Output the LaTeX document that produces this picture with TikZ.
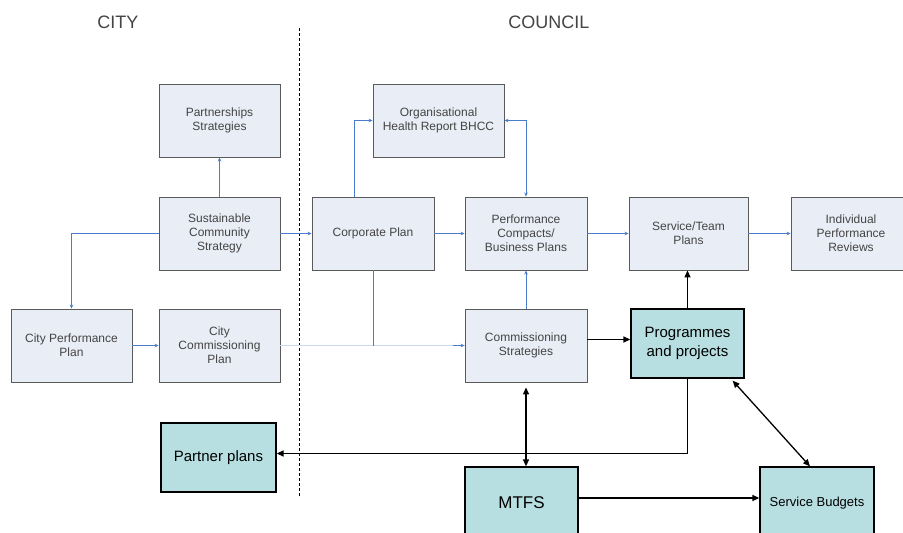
\documentclass[tikz,border=0pt]{standalone}
\usepackage{fontspec}
\setmainfont{Liberation Sans}
\usetikzlibrary{arrows.meta}
\definecolor{lfill}{HTML}{E9EDF6}
\definecolor{lborder}{HTML}{5A5A5A}
\definecolor{tfill}{HTML}{B7DFE1}
\definecolor{bline}{HTML}{4A7CCB}
\definecolor{fline}{HTML}{C9D9F1}
\definecolor{ltext}{HTML}{444444}
\tikzset{
  lbox/.style={rectangle, draw=lborder, line width=0.9pt, fill=lfill, inner sep=0pt,
    minimum width=121pt, minimum height=73pt, align=center, text=ltext,
    font=\fontsize{12}{14}\selectfont},
  tbox/.style={rectangle, draw=black, line width=1.3pt, fill=tfill, inner sep=0pt,
    minimum width=113pt, minimum height=69pt, align=center, text=black},
  bl/.style={draw=bline, line width=0.9pt, -{Stealth[length=4pt,width=3.5pt]}},
  blk/.style={draw=black, line width=1.3pt, -{Triangle[length=7pt,width=6pt]}},
  blk2/.style={draw=black, line width=1.3pt, {Triangle[length=7pt,width=6pt]}-{Triangle[length=7pt,width=6pt]}},
  hdr/.style={text=ltext, font=\fontsize{18}{20}\selectfont},
}
\begin{document}
\begin{tikzpicture}[x=1pt,y=-1pt]
\useasboundingbox (0,0) rectangle (903,533);
\clip (0,0) rectangle (903,533);
\fill[white] (0,0) rectangle (903,533);

\node[hdr] (city) at (118,22) {CITY};
\node[hdr] (council) at (549,22) {COUNCIL};
\coordinate (dtop) at (299,28);
\coordinate (dbot) at (299,497);
\draw[black, line width=0.9pt, dash pattern=on 3pt off 2pt] (dtop) -- (dbot);

\node[lbox] (part) at (219.5,120.5) {Partnerships\\Strategies};
\node[lbox] (scs) at (219.5,233.5) {Sustainable\\Community\\Strategy};
\node[lbox, minimum width=122pt] (corp) at (373,233.5) {Corporate Plan};
\node[lbox, minimum width=131pt] (org) at (438.5,120.5) {Organisational\\Health Report BHCC};
\node[lbox, minimum width=122pt] (pcbp) at (526,233.5) {Performance\\Compacts/\\Business Plans};
\node[lbox, minimum width=119pt] (stp) at (688.5,233.5) {Service/Team\\Plans};
\node[lbox, minimum width=120pt] (ipr) at (851,233.5) {Individual\\Performance\\Reviews};
\node[lbox] (cpp) at (71.5,345.5) {City Performance\\Plan};
\node[lbox] (ccp) at (219.5,345.5) {City\\Commissioning\\Plan};
\node[lbox, minimum width=122pt] (cs) at (526,345.5) {Commissioning\\Strategies};

\node[tbox, font=\fontsize{15}{19}\selectfont] (pp) at (687.5,343.5) {Programmes\\and projects};
\node[tbox, minimum width=115pt, font=\fontsize{15}{17}\selectfont] (partner) at (218.5,457.5) {Partner plans};
\node[tbox, minimum height=72pt, font=\fontsize{17}{20}\selectfont] (mtfs) at (521.5,503) {MTFS};
\node[tbox, minimum width=114pt, minimum height=72pt, font=\fontsize{13}{15}\selectfont] (sb) at (817,503) {Service Budgets};

% blue connectors
\draw[bl] (scs.north) -- (part.south);
\draw[bl] (scs.west) -| (cpp.north);
\draw[bl] (cpp.east) -- (ccp.west);
\draw[bl] (scs.east) -- (corp.west);
\draw[bl] ([xshift=-19pt]corp.north) |- (org.west);
\draw[bl] (corp.east) -- (pcbp.west);
\draw[bl, {Stealth[length=4pt,width=3.5pt]}-{Stealth[length=4pt,width=3.5pt]}] (pcbp.north) |- (org.east);
\draw[bl] (pcbp.east) -- (stp.west);
\draw[bl] (stp.east) -- (ipr.west);
\draw[draw=fline, line width=1pt] (ccp.east) -- (cs.west);
\draw[bl, -] (corp.south) -- (corp.south |- cs.west);
\draw[bl] ([xshift=-12pt]cs.west) -- (cs.west);
\draw[bl] (cs.north) -- (pcbp.south);

% black connectors
\draw[blk] ([yshift=6pt]cs.east) coordinate (a1) -- (a1 -| pp.west);
\draw[blk] (pp.north) -- (pp.north |- stp.south);
\draw[blk] (pp.south) |- ([yshift=4pt]partner.east);
\draw[blk2] ([yshift=-5pt]cs.south) -- (cs.south |- mtfs.north);
\draw[blk2] ([xshift=-12pt,yshift=-2pt]pp.south east) -- ([xshift=-7pt]sb.north);
\draw[blk] ([yshift=5pt]mtfs.east) coordinate (a2) -- (a2 -| sb.west);
\end{tikzpicture}
\end{document}
